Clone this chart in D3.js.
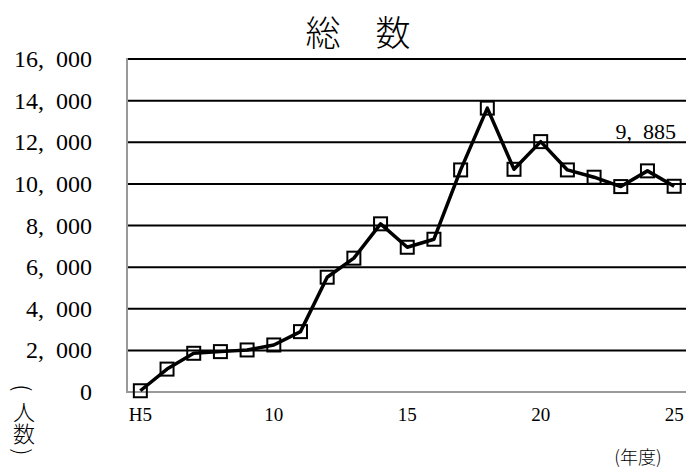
<!DOCTYPE html>
<html lang="ja">
<head>
  <meta charset="utf-8">
  <title>総数</title>
  <style>
  html, body {padding: 0; margin: 0; overflow: hidden; background: #fff}
  </style>
</head>
<body>
  <svg width="686" height="468"></svg>
  <script src="https://d3js.org/d3.v7.min.js"></script>
  <script>

  // data (年度 H5 .. H25, 人数)
  var years = [5, 6, 7, 8, 9, 10, 11, 12, 13, 14, 15, 16, 17, 18, 19, 20, 21, 22, 23, 24, 25];
  var counts = [60, 1100, 1860, 1940, 2020, 2260, 2900, 5515, 6430, 8080, 6955, 7340,
                10670, 13640, 10700, 12030, 10670, 10320, 9870, 10625, 9885];
  var xTicks = [5, 10, 15, 20, 25];
  var xTickLabels = ["H5", "10", "15", "20", "25"];
  var yTicks = [0, 2000, 4000, 6000, 8000, 10000, 12000, 14000, 16000];

  var svg = d3.select("svg"),
      plotLeft = 127, plotRight = 687.5, plotTop = 59, plotBottom = 392;

  var serif = "'Liberation Serif', 'DejaVu Serif', serif",
      cjk = "'Noto Sans CJK JP', sans-serif";

  var x = d3.scaleBand().domain(years).range([plotLeft, plotRight]).padding(0);
  var y = d3.scaleLinear().domain([0, 16000]).range([plotBottom, plotTop]);
  var cx = function(d) { return x(d) + x.bandwidth() / 2; };
  var fmt = function(v) { return d3.format(",")(v).replace(",", ",\u2002"); };

  // gridlines
  svg.append("g")
    .selectAll("line")
    .data(yTicks.filter(function(d) { return d > 0; }))
    .join("line")
      .attr("x1", plotLeft).attr("x2", 686)
      .attr("y1", function(d) { return y(d); })
      .attr("y2", function(d) { return y(d); })
      .attr("stroke", "#000")
      .attr("stroke-width", 2);

  // axes (grey)
  svg.append("line")
    .attr("x1", plotLeft).attr("x2", plotLeft).attr("y1", plotTop - 1).attr("y2", plotBottom + 1)
    .attr("stroke", "#999").attr("stroke-width", 2);
  svg.append("line")
    .attr("x1", plotLeft).attr("x2", 686).attr("y1", plotBottom).attr("y2", plotBottom)
    .attr("stroke", "#999").attr("stroke-width", 2);

  // y tick labels
  svg.append("g")
    .selectAll("text")
    .data(yTicks)
    .join("text")
      .attr("x", 92)
      .attr("y", function(d) { return y(d) + 8; })
      .attr("text-anchor", "end")
      .style("font-family", serif)
      .style("font-size", "24px")
      .text(fmt);

  // x tick labels
  svg.append("g")
    .selectAll("text")
    .data(xTicks)
    .join("text")
      .attr("x", cx)
      .attr("y", 421)
      .attr("text-anchor", "middle")
      .style("font-family", serif)
      .style("font-size", "19px")
      .text(function(d, i) { return xTickLabels[i]; });

  // line
  var line = d3.line()
    .x(function(d, i) { return cx(years[i]); })
    .y(function(d) { return y(d); });

  svg.append("path")
    .datum(counts)
    .attr("d", line)
    .attr("fill", "none")
    .attr("stroke", "#000")
    .attr("stroke-width", 3.5)
    .attr("stroke-linejoin", "round");

  // square markers
  svg.append("g")
    .selectAll("rect")
    .data(counts)
    .join("rect")
      .attr("x", function(d, i) { return cx(years[i]) - 6.5; })
      .attr("y", function(d) { return y(d) - 6.5; })
      .attr("width", 13)
      .attr("height", 13)
      .attr("fill", "none")
      .attr("stroke", "#000")
      .attr("stroke-width", 2);

  // last value label
  svg.append("text")
    .attr("x", 676)
    .attr("y", 139)
    .attr("text-anchor", "end")
    .style("font-family", serif)
    .style("font-size", "22px")
    .text(fmt(counts[counts.length - 1]));

  // title
  svg.append("text")
    .attr("x", 358)
    .attr("y", 30)
    .attr("text-anchor", "middle")
    .attr("dominant-baseline", "central")
    .style("font-family", cjk)
    .style("font-size", "35px")
    .style("font-weight", 300)
    .text("総\u3000数");

  // y axis title (vertical): brackets are rotated half-width parens
  var yTitle = [
    {t: "(", y: 388, rot: 90},
    {t: "人", y: 410, rot: 0},
    {t: "数", y: 432, rot: 0},
    {t: ")", y: 452, rot: 90}
  ];
  svg.append("g")
    .selectAll("text")
    .data(yTitle)
    .join("text")
      .attr("transform", function(d) { return "translate(24," + d.y + ") rotate(" + d.rot + ")"; })
      .attr("text-anchor", "middle")
      .attr("dominant-baseline", "central")
      .style("font-family", cjk)
      .style("font-size", "22px")
      .style("font-weight", 300)
      .text(function(d) { return d.t; });

  // x axis title
  svg.append("text")
    .attr("x", 638)
    .attr("y", 456)
    .attr("text-anchor", "middle")
    .attr("dominant-baseline", "central")
    .style("font-family", cjk)
    .style("font-size", "18px")
    .style("font-weight", 300)
    .text("(年度)");

  </script>
</body>
</html>
